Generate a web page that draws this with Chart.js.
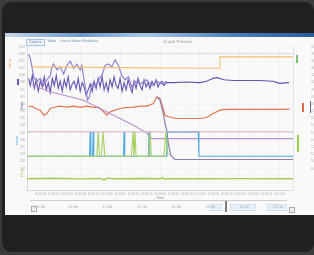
<!DOCTYPE html>
<html>
<head>
<meta charset="utf-8">
<script src="https://cdn.jsdelivr.net/npm/chart.js@4.4.1/dist/chart.umd.min.js"></script>
<style>
  html, body { margin: 0; padding: 0; }
  body { width: 314px; height: 255px; background: #3c3b3b; position: relative; overflow: hidden; font-family: "DejaVu Sans", sans-serif; }
  #frame { position: absolute; left: 2px; top: 2px; right: 0; bottom: 3px; background: #232021; border-radius: 9px; }
  #screen { position: absolute; left: 5px; top: 33px; width: 309px; height: 182px; background: #f9f9fa; overflow: hidden; }
  #titlebar { position: absolute; left: 0; top: 0; width: 100%; height: 4px; background: linear-gradient(90deg, #c4d8ec, #6b98cc 25%, #a8c8e8 45%, #4a7cb8 75%, #2b5c9c); }
  .tab { position: absolute; top: 6px; font-size: 3.5px; color: #6a88b0; padding: 0 2px; line-height: 5px; }
  .tab.on { border: 0.5px solid #a8c0e0; background: #eef4fb; }
  #caption { position: absolute; left: 158px; top: 6px; font-size: 4px; color: #999; }
  #chartbox { position: absolute; left: 0; top: 2px; width: 309px; height: 167px; }
  .vt { position: absolute; font-size: 3.5px; writing-mode: vertical-rl; transform: rotate(180deg); white-space: nowrap; }
  .mark { position: absolute; }
  #nav { position: absolute; left: 25px; top: 167px; width: 257px; height: 1px; background: #cdcdcd; }
  .nl { position: absolute; top: 172px; font-size: 3.5px; color: #a4a4a4; }
  .sel { position: absolute; top: 171px; height: 5px; background: #e6f0fa; border: 0.5px solid #d4e4f4; }
  #handle { position: absolute; left: 220px; top: 168px; width: 1.5px; height: 11px; background: #808080; }
  .arr { position: absolute; width: 4px; height: 4px; border: 0.5px solid #aaa; background: #eee; }
</style>
</head>
<body>
<div id="frame"></div>
<div id="screen">
  <div id="chartbox"><canvas id="chart" width="309" height="167"></canvas></div>
  <div id="titlebar"></div>
  <div class="tab on" style="left:21px">Graphs</div>
  <div class="tab" style="left:40px">Table</div>
  <div class="tab" style="left:53px">Event Alarm</div>
  <div class="tab" style="left:75px">Statistics</div>
  <div id="caption">Graph Preview</div>

  <div class="vt" style="left:3px;top:26px;color:#e8a850">Temp</div>
  <div class="mark" style="left:12px;top:46px;width:2px;height:6px;background:#6a52b0"></div>
  <div class="vt" style="left:15px;top:69px;color:#7a5cc0">Pres</div>
  <div class="vt" style="left:10px;top:103px;color:#48a8dc">Valve</div>
  <div class="vt" style="left:15px;top:136px;color:#9ccc50">Flow</div>
  <div class="mark" style="left:291px;top:22px;width:2px;height:8px;background:#7cc070"></div>
  <div class="mark" style="left:297px;top:70px;width:2px;height:9px;background:#e06a4a"></div>
  <div class="mark" style="left:305px;top:68px;width:1px;height:12px;background:#6a6a8a"></div>
  <div class="mark" style="left:292px;top:102px;width:2px;height:17px;background:#9ccc50"></div>

  <div id="nav"></div>
  <div class="sel" style="left:205px;width:10px"></div>
  <div class="sel" style="left:225px;width:24px"></div>
  <div class="sel" style="left:262px;width:18px"></div>
  <div id="handle"></div>
  <div class="arr" style="left:26px;top:173px"></div>
  <div class="arr" style="left:284px;top:174px"></div>
  <div class="nl" style="left:30px">10:00</div>
  <div class="nl" style="left:63px">10:30</div>
  <div class="nl" style="left:97px">11:00</div>
  <div class="nl" style="left:132px">11:30</div>
  <div class="nl" style="left:166px">12:00</div>
  <div class="nl" style="left:200px">12:30</div>
  <div class="nl" style="left:234px">13:00</div>
  <div class="nl" style="left:268px">13:30</div>
</div>

<script>
// time axis is in minutes from the start of the log, values are % of each channel range
const tempTime = [4, 137, 145, 145, 200];
const tempValue = [86, 85, 85, 93, 93];

const presTime = [1.25, 2.5, 4, 5.5, 7, 8.5, 10, 11.5, 13, 14.5, 16, 17.5, 19, 20.5, 22, 23.5, 25, 26.5, 28, 29.5,
  31, 32.5, 34, 35.5, 37, 38.5, 40, 41.5, 43, 44.5, 46, 47.5, 49, 50.5, 52, 53.5, 55, 56.5, 58, 59.5,
  61, 62.5, 64, 65.5, 67, 68.5, 70, 71.5, 73, 74.5, 76, 77.5, 79, 80.5, 82, 83.5, 85, 86.5, 88, 89.5,
  91, 92.5, 94, 95.5, 97, 98.5, 100, 101.5, 103, 105,
  110, 120, 130, 135, 140, 143, 148, 155, 165, 175, 185, 190, 197];
const presValue = [78, 73, 80, 71, 77, 69, 76, 72, 79, 70, 75, 68, 78, 73, 80, 71, 76, 69, 77, 72,
  79, 70, 74, 76, 71, 78, 69, 75, 72, 66, 70, 74, 69, 76, 71, 78, 72, 79, 70, 75,
  69, 77, 72, 79, 73, 71, 78, 69, 75, 70, 77, 72, 68, 76, 71, 78, 73, 70, 77, 72,
  75, 71, 76, 73, 77, 72, 75, 76, 73, 75,
  75, 75.5, 75, 76, 78, 78.5, 77, 76.5, 76.5, 76.5, 76, 74.5, 75];

const pres2Time = [1.25, 2.5, 3.75, 5, 7.5, 10, 12.5, 15, 17.5, 18.75, 20, 22.5, 25, 27.5, 30, 32.5, 35, 37.5, 40, 41.25,
  42.5, 43.75, 45.5, 47, 48.75, 51.25, 53.75, 56.25, 58.75, 61.25, 63.75, 66.25, 68.75, 71.25, 73.75, 76.25,
  78.75, 81.25, 85, 90, 93.75, 97.5, 101.25, 105];
const pres2Value = [95, 92, 86, 79, 76, 78, 73, 77, 80, 86, 88, 84, 86, 81, 87, 90, 85, 88, 84, 87,
  79, 72, 63, 65, 74, 72, 77, 80, 87, 88, 86, 91, 87, 80, 77, 79,
  72, 76, 74, 77, 73, 76, 74, 76];

const levelTime = [3.75, 17.5, 42.5, 62.5, 80, 90, 93.75, 200];
const levelValue = [73.3, 68.6, 62.8, 53.5, 45.3, 40, 36, 36];

const heatTime = [1.25, 3.75, 6.25, 10, 12.5, 15, 17.5, 21.25, 25, 30, 35, 40, 45, 50, 53.75, 57.5, 60, 62.5, 66.25,
  70, 75, 80, 85, 90, 95, 97.5, 100, 102, 103.75, 106.25, 112.5, 120, 130, 135, 140, 145, 150, 160, 170, 180, 190, 197.5];
const heatValue = [58, 58.6, 57, 55.8, 52.3, 53.5, 57, 58, 58.6, 58, 58.6, 57.7, 58.6, 57.7, 58, 54.7, 52.3, 54.7, 55.8,
  57, 57.7, 58, 58.6, 58.6, 60.5, 65, 64, 58, 52.3, 51.2, 50, 50, 50, 50.7, 53.5, 55.8, 56.3, 56.3, 56.3, 56.3, 56.3, 56.5];

const drainTime = [97.5, 100, 102.5, 103.75, 105, 106.25, 108, 111.25, 200];
const drainValue = [65, 62.8, 53.5, 46.5, 42, 32.6, 24.4, 21.4, 21.4];

const limitTime = [0, 200];
const limitValue = [40.7, 40.7];
const refTime = [4, 200];
const refValue = [95.3, 95.3];

const valveTime = [0, 47, 47.5, 48, 49.25, 49.75, 50.25, 72.5, 73, 73.5, 91.25, 91.75, 92.25, 105, 105.5, 128.75, 129.25, 200];
const valveValue = [23.7, 23.7, 40.7, 23.7, 23.7, 40.7, 23.7, 23.7, 40.7, 23.7, 23.7, 40.7, 23.7, 23.7, 40.7, 40.7, 23.7, 23.7];

const pumpTime = [0, 52.5, 53.5, 54.5, 56, 57.25, 58.5, 78.5, 79.75, 80.5, 81.25, 82, 91.5, 92.5, 93.5, 103, 104.5, 106];
const pumpValue = [23.7, 23.7, 40.7, 23.7, 23.7, 40.7, 23.7, 23.7, 40.7, 23.7, 40.7, 23.7, 23.7, 40.7, 23.7, 23.7, 40.7, 23.7];

const flowTime = [0, 20, 40, 55, 58, 60, 65, 90, 100, 102, 103, 105, 130, 160, 200];
const flowValue = [8, 8.3, 7.9, 8.2, 7.2, 8.4, 8, 8.2, 8, 8.8, 7.6, 8.1, 8, 8.1, 8];

const pts = (xs, ys) => xs.map((x, i) => ({ x: x, y: ys[i] }));
const line = (label, xs, ys, color, width) => ({
  label: label, data: pts(xs, ys), borderColor: color, borderWidth: width || 1,
  pointRadius: 0, tension: 0, fill: false
});
const clock = m => {
  const t = 600 + m;
  return String(Math.floor(t / 60)).padStart(2, '0') + ':' + String(t % 60).padStart(2, '0') + ':00';
};

new Chart(document.getElementById('chart'), {
  type: 'line',
  data: {
    datasets: [
      line('Reference', refTime, refValue, '#d6d6d6', 0.8),
      line('Limit', limitTime, limitValue, '#cfa6c2', 0.9),
      line('Pump', pumpTime, pumpValue, '#a8d060', 1.1),
      line('Valve', valveTime, valveValue, '#52aade', 1.1),
      line('Flow', flowTime, flowValue, '#a0cc52', 1.4),
      line('Level', levelTime, levelValue, '#b890cc', 1.1),
      line('Drain', drainTime, drainValue, '#8c7eaa', 1.2),
      line('Heater', heatTime, heatValue, '#e4744e', 1.2),
      line('Temp', tempTime, tempValue, '#f2c070', 1.1),
      line('Pressure 2', pres2Time, pres2Value, '#9580d2', 1.2),
      line('Pressure', presTime, presValue, '#6652b2', 1.1)
    ]
  },
  options: {
    responsive: false,
    animation: false,
    devicePixelRatio: 1,
    layout: { padding: { top: 3, bottom: 1, left: 0, right: 0 } },
    plugins: { legend: { display: false }, tooltip: { enabled: false } },
    scales: {
      x: {
        type: 'linear', min: 0, max: 200,
        afterFit: s => { s.height = 10; },
        grid: { color: '#ececec', lineWidth: 0.6, drawTicks: false },
        border: { color: '#d8d8d8' },
        ticks: { stepSize: 10, padding: 2, maxRotation: 0, autoSkip: false, color: '#b0b0b0', font: { size: 3 },
          callback: v => (v === 0 || v === 200) ? '' : clock(v) },
        title: { display: true, text: 'Time', color: '#8a8a8a', font: { size: 3.5 }, padding: 0 }
      },
      y: {
        position: 'left', min: 0, max: 100,
        afterFit: s => { s.width = 22; },
        grid: { color: '#f1f1f1', lineWidth: 0.6, drawTicks: false },
        border: { color: '#d4d4d4' },
        ticks: { stepSize: 5, padding: 2, color: '#b0b0b0', font: { size: 3 },
          callback: v => v < 15 ? '' : (v * 12.5).toFixed(0) }
      },
      y2: {
        position: 'right', min: 0, max: 100,
        afterFit: s => { s.width = 21; },
        grid: { display: false },
        border: { color: '#e2e2e2' },
        ticks: { stepSize: 5, padding: 10, color: '#b0b0b0', font: { size: 3 },
          callback: v => v < 15 ? '' : (v * 0.4).toFixed(1) }
      }
    }
  }
});
</script>
</body>
</html>
